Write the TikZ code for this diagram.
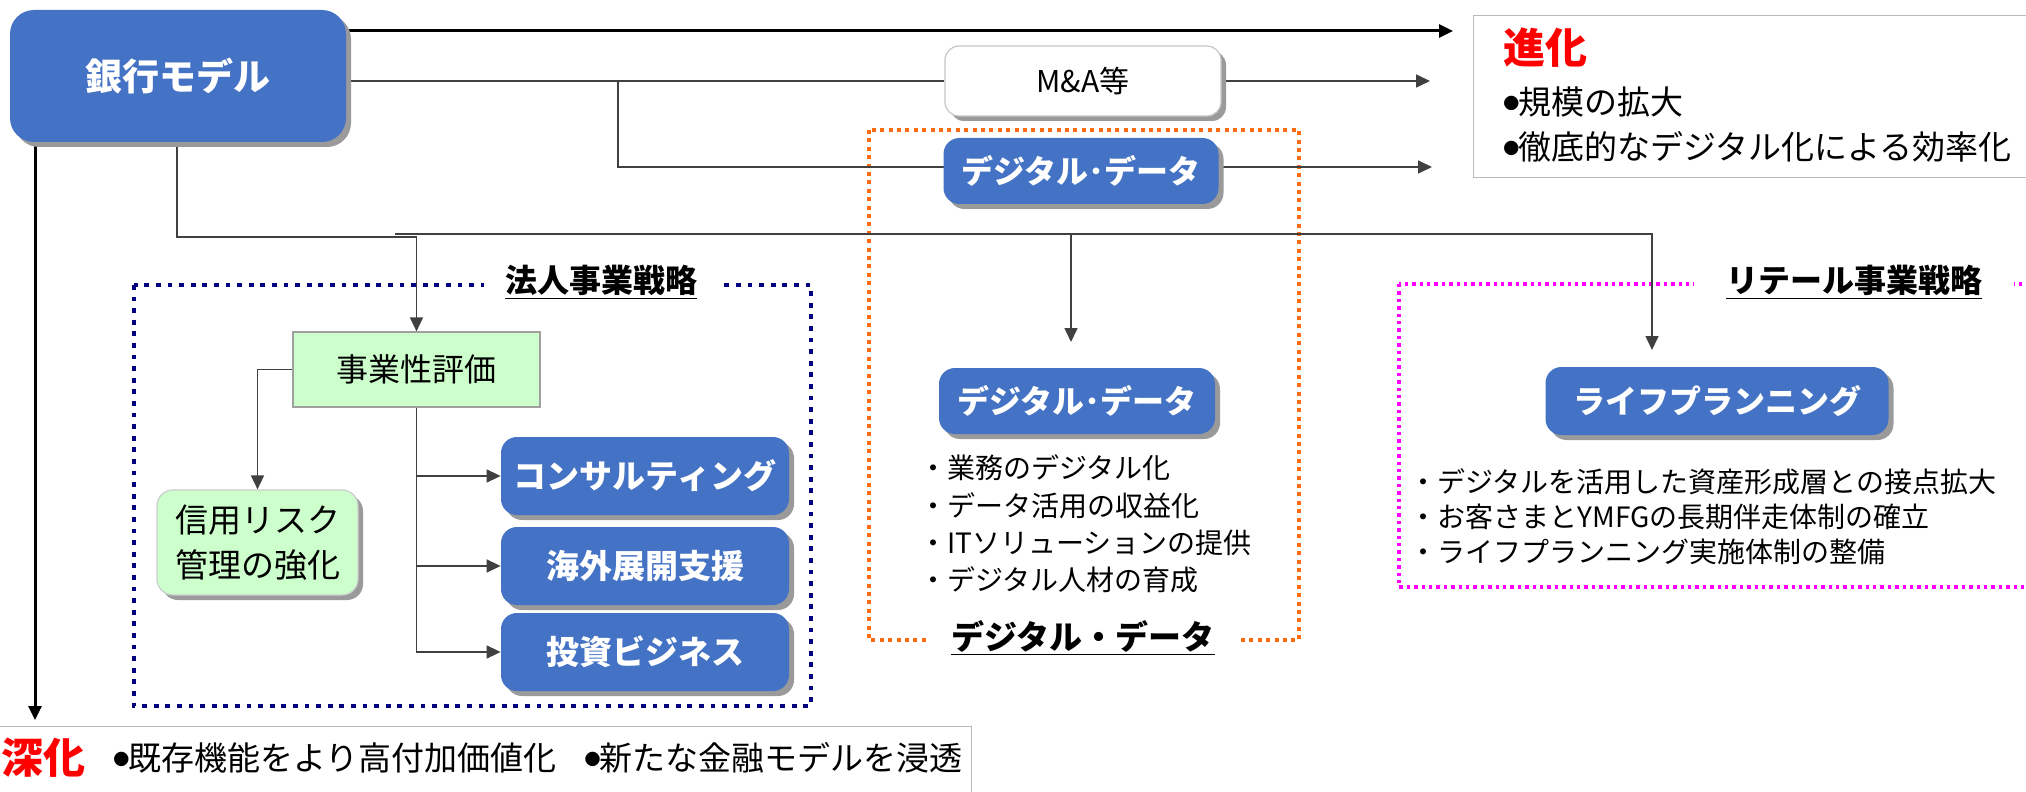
\documentclass[tikz,border=0pt]{standalone}
\usepackage{fontspec}
\setmainfont{Noto Sans CJK JP}
\usetikzlibrary{arrows.meta,shadows,calc}
\pgfdeclarelayer{frames}
\pgfdeclarelayer{conns}
\pgfsetlayers{frames,conns,main}
\definecolor{myblue}{HTML}{4472C4}
\definecolor{shgray}{HTML}{9A9A9A}
\definecolor{mygreen}{HTML}{CCFFCC}
\definecolor{navyc}{HTML}{000080}
\definecolor{orangec}{HTML}{FF6A13}
\definecolor{magc}{HTML}{FF00FF}
\definecolor{connc}{HTML}{404040}
\newcommand{\fsz}[2]{\fontsize{#1pt}{#2pt}\selectfont}
\newcommand{\bul}{\raisebox{2.6pt}{\fontsize{8pt}{9pt}\selectfont ●}\hspace{-0.5pt}}
\begin{document}
\begin{tikzpicture}[x=0.5pt,y=-0.5pt,
  shad/.style={drop shadow={shadow xshift=2.5pt,shadow yshift=-2.5pt,fill=shgray,opacity=1}},
  bluebox/.style={rounded corners=8pt, fill=myblue, text=white, inner sep=0pt, shad},
  whitebox/.style={rounded corners=7pt, fill=white, draw=gray!45, line width=0.6pt, inner sep=0pt, shad},
  greenrect/.style={fill=mygreen, draw=gray!75, line width=0.6pt, inner sep=0pt},
  greenround/.style={rounded corners=8pt, fill=mygreen, draw=gray!40, line width=0.6pt, inner sep=0pt, shad},
  greybox/.style={draw=gray!55, line width=0.7pt, fill=white, inner sep=0pt},
  framelabel/.style={fill=white, inner ysep=2pt, font=\fsz{16}{19}\bfseries},
  navydot/.style={draw=navyc, line width=2.4pt, dash pattern=on 2.4pt off 3.4pt},
  orangedot/.style={draw=orangec, line width=2pt, dash pattern=on 2pt off 2.2pt},
  magdot/.style={draw=magc, line width=1.7pt, dash pattern=on 1.7pt off 2pt},
  conn/.style={draw=connc, line width=0.8pt},
  connarrow/.style={conn, -{Triangle[length=7pt,width=6.5pt]}},
  thickarrow/.style={draw=black, line width=1.5pt, -{Triangle[length=7pt,width=6.5pt]}},
  txt/.style={inner sep=0pt}]
\useasboundingbox (0,0) rectangle (2026,792);

% ---------- nodes ----------
\node[bluebox, minimum width=168pt, minimum height=66pt, rounded corners=12pt, font=\fsz{18.5}{22}\bfseries] (bank) at (178,76) {銀行モデル};
\node[whitebox, minimum width=138pt, minimum height=35pt, font=\fsz{15}{18}] (mna) at (1083,81) {M\&A等};
\node[bluebox, minimum width=137.5pt, minimum height=33pt, font=\fsz{16}{18}\bfseries] (dd1) at (1081,171) {デジタル･データ};

\node[greybox, anchor=north west, minimum width=290pt, minimum height=81pt] (evo) at (1473,15) {};
\node[txt, anchor=west, text=red, font=\fsz{21}{24}\bfseries] (evoT) at (1503,48) {進化};
\node[txt, anchor=west, font=\fsz{16.5}{20}] (evo1) at (1503,102) {\bul 規模の拡大};
\node[txt, anchor=west, font=\fsz{16.5}{20}] (evo2) at (1503,147) {\bul 徹底的なデジタル化による効率化};

\node[greenrect, minimum width=123.5pt, minimum height=37.5pt, font=\fsz{16}{19}] (jigyo) at (416.5,369.5) {事業性評価};
\node[greenround, minimum width=100.5pt, minimum height=52.5pt, align=center, font=\fsz{16.5}{22.5}] (shinyo) at (257.5,542.5) {信用リスク\\管理の強化};
\node[bluebox, minimum width=144pt, minimum height=39pt, font=\fsz{16.5}{19}\bfseries] (consul) at (645,476) {コンサルティング};
\node[bluebox, minimum width=144pt, minimum height=39pt, font=\fsz{16.5}{19}\bfseries] (kaigai) at (645,566) {海外展開支援};
\node[bluebox, minimum width=144pt, minimum height=39pt, font=\fsz{16.5}{19}\bfseries] (toushi) at (645,652) {投資ビジネス};

\node[bluebox, minimum width=138pt, minimum height=33pt, font=\fsz{16}{18}\bfseries] (dd2) at (1077,401) {デジタル･データ};
\node[txt, anchor=west, align=left, font=\fsz{14}{18.6}] (dlist) at (919,524) {・業務のデジタル化\\・データ活用の収益化\\・ITソリューションの提供\\・デジタル人材の育成};

\node[bluebox, minimum width=171.5pt, minimum height=34pt, font=\fsz{16}{19}\bfseries] (life) at (1717,401) {ライフプランニング};
\node[txt, anchor=west, align=left, font=\fsz{14}{17.5}] (rlist) at (1409,517) {・デジタルを活用した資産形成層との接点拡大\\・お客さまとYMFGの長期伴走体制の確立\\・ライフプランニング実施体制の整備};

\node[greybox, anchor=north west, minimum width=495.5pt, minimum height=50pt] (deep) at (-20,726) {};
\node[txt, anchor=west, text=red, font=\fsz{21}{24}\bfseries] (deepT) at (1,758) {深化};
\node[txt, anchor=west, font=\fsz{16.5}{20}] (deep1) at (113,758) {\bul 既存機能をより高付加価値化\hspace{14pt}\bul 新たな金融モデルを浸透};

% ---------- frames ----------
\begin{pgfonlayer}{frames}
\fill[white] (0,0) rectangle (2026,792);
\draw[navydot] (134,285) rectangle (811,706);
\node[framelabel, inner xsep=10.5pt] (lbl1) at (601,282) {\underline{法人事業戦略}};
\draw[orangedot] (869,130) rectangle (1299,640);
\node[framelabel, inner xsep=11pt, font=\fsz{16.5}{19}\bfseries] (lbl2) at (1083,638) {\underline{デジタル・データ}};
\draw[magdot] (1399,284) rectangle (2070,587);
\node[framelabel, inner xsep=16pt] (lbl3) at (1854,282) {\underline{リテール事業戦略}};
\end{pgfonlayer}

% ---------- connectors ----------
\coordinate (a0) at (1453,31);
\coordinate (a1) at (1430,81);
\coordinate (a2) at (1432,167);
\coordinate (j1) at (618,81);
\coordinate (b1) at (177,237);
\coordinate (h0) at (395,234);
\coordinate (t2) at (1071,342);
\coordinate (t3) at (1652,350);
\coordinate (t0) at (35,720);
\begin{pgfonlayer}{conns}
\draw[thickarrow] (bank.east |- a0) -- (a0);
\draw[conn] (bank.east |- a1) -- (mna.west);
\draw[connarrow] (mna.east) -- (a1);
\draw[connarrow] (j1) |- (a2);
\draw[connarrow] (bank.south -| b1) -- (b1) -| (jigyo.north);
\draw[connarrow] (h0) -| (t3);
\draw[connarrow] (h0 -| t2) -- (t2);
\draw[thickarrow] (bank.south -| t0) -- (t0);
\draw[connarrow] (jigyo.west) -| (shinyo.north);
\draw[connarrow] (jigyo.south) |- (toushi.west);
\draw[connarrow] (jigyo.south |- consul.west) -- (consul.west);
\draw[connarrow] (jigyo.south |- kaigai.west) -- (kaigai.west);
\end{pgfonlayer}
\end{tikzpicture}
\end{document}
